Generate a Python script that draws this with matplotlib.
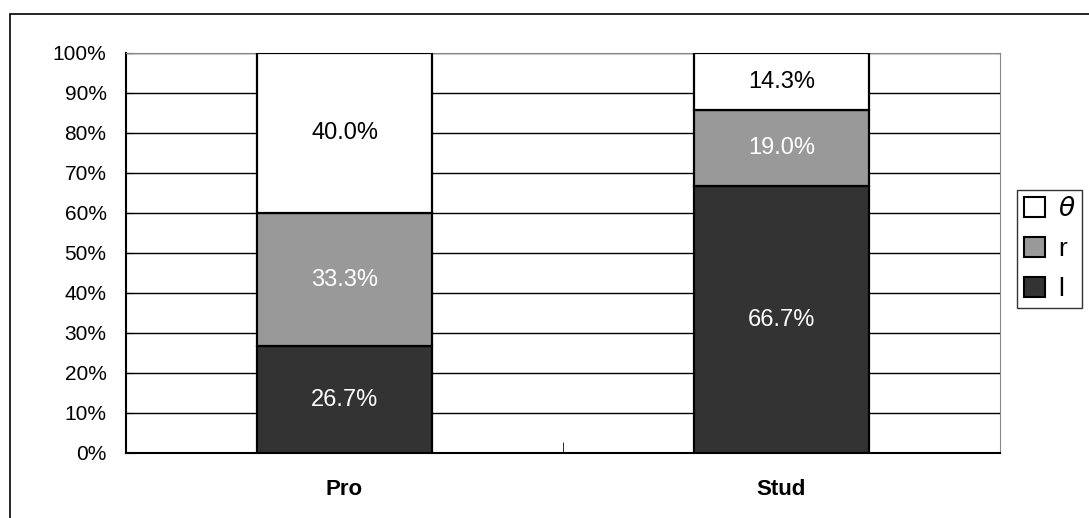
import matplotlib
matplotlib.use('Agg')
import matplotlib.pyplot as plt
from matplotlib.patches import Rectangle, Patch

plt.rcParams.update({
    "font.family": ["Liberation Sans", "DejaVu Sans"],
    "font.size": 12,
})

categories = ['Pro', 'Stud']
series_names = ['l', 'r', '$\\theta$']
l_vals = [26.7, 66.7]
r_vals = [33.3, 19.0]
theta_vals = [40.0, 14.3]
colors = ['#333333', '#999999', '#ffffff']
text_colors = ['white', 'white', 'black']


def main():
    fig = plt.figure(figsize=(10.89, 5.18), dpi=100)
    # outer chart border (cut off at right and bottom)
    fig.patches.append(Rectangle((10 / 1089, -0.1), 1.2, 0.973 + 0.1,
                                 transform=fig.transFigure, fill=False,
                                 edgecolor='black', lw=1.2, clip_on=False))
    ax = fig.add_axes([126 / 1089, 65 / 518, 874 / 1089, 400 / 518])

    x = list(range(len(categories)))
    bottom = [0.0] * len(categories)
    for vals, c, tc in zip([l_vals, r_vals, theta_vals], colors, text_colors):
        ax.bar(x, vals, width=0.4, bottom=bottom, color=c,
               edgecolor='black', lw=1.6, zorder=3)
        for xi, v, b in zip(x, vals, bottom):
            ax.text(xi, b + v / 2, f'{v:.1f}%', ha='center', va='center',
                    color=tc, fontsize=17, zorder=4)
        bottom = [b + v for b, v in zip(bottom, vals)]

    ax.set_xlim(-0.5, 1.5)
    ax.set_ylim(0, 100)
    ax.set_yticks(range(0, 101, 10))
    ax.set_yticklabels([f'{t}%' for t in range(0, 101, 10)])
    ax.yaxis.grid(True, color='black', lw=1.0, zorder=0)
    ax.set_axisbelow(True)
    ax.set_xticks(x)
    ax.set_xticklabels(categories, fontweight='bold', fontsize=16)
    ax.set_xticks([0.5], minor=True)
    ax.tick_params(axis='x', which='major', length=0, pad=19)
    ax.tick_params(axis='x', which='minor', direction='in', length=8)
    ax.tick_params(axis='y', direction='in', length=6, pad=14, labelsize=15)
    ax.spines['left'].set_linewidth(1.5)
    ax.spines['bottom'].set_linewidth(1.5)
    ax.spines['top'].set_color('#888888')
    ax.spines['right'].set_color('#888888')

    handles = [Patch(facecolor=c, edgecolor='black', lw=1.5) for c in colors]
    leg = fig.legend(handles[::-1], series_names[::-1],
                     loc='upper left', bbox_to_anchor=(1017 / 1089, 1 - 190 / 518),
                     fontsize=19, frameon=True, fancybox=False,
                     handlelength=0.8, handleheight=0.8, handletextpad=0.5,
                     labelspacing=0.6, borderpad=0.25, borderaxespad=0)
    leg.get_frame().set_edgecolor('black')
    leg.get_frame().set_linewidth(1.0)

    fig.savefig('out.png', dpi=100)
    plt.close(fig)


if __name__ == '__main__':
    main()
